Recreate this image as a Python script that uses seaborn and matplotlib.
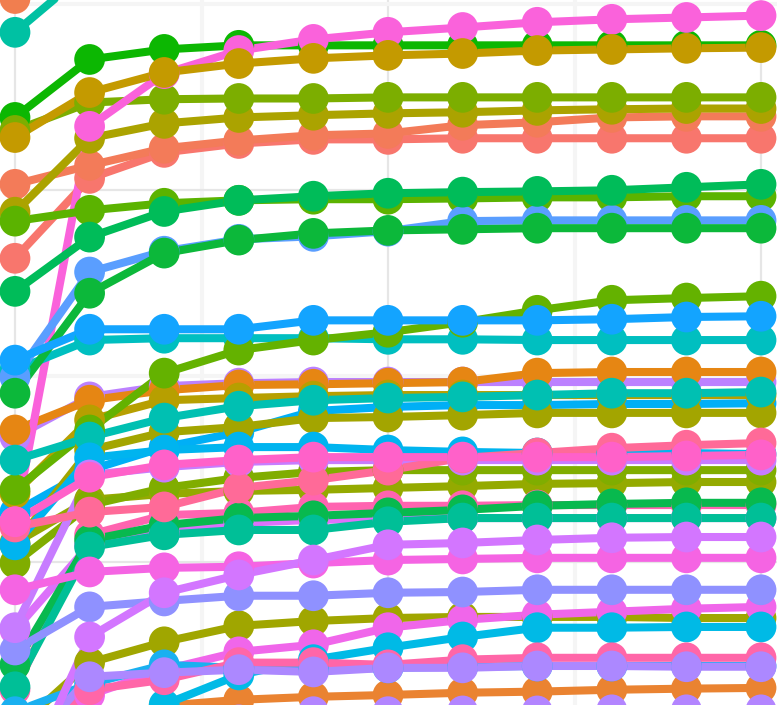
import matplotlib
matplotlib.use("Agg")
import matplotlib.pyplot as plt
import pandas as pd
import seaborn as sns

steps = [0, 1, 2, 3, 4, 5, 6, 7, 8, 9, 10]

# values per series (one value per step)
salmon = [181.7, 203.2, 210.2, 212.6, 213.7, 213.7, 214.0, 214.0, 214.0, 214.0, 214.0]
salmon_orange = [201.6, 206.7, 211.3, 213.4, 214.8, 215.3, 217.5, 218.3, 219.6, 219.9, 219.9]
coral_top = [251.6, 285.0, 288.0, 290.0, 291.0, 292.0, 292.0, 293.0, 293.0, 293.0, 293.0]
orange = [135.5, 143.5, 146.2, 147.6, 147.8, 148.1, 148.4, 150.8, 151.1, 151.1, 151.1]
orange_low = [41.4, 52.2, 61.3, 62.9, 63.7, 64.2, 64.8, 65.1, 65.6, 65.9, 66.1]
goldenrod = [214.2, 226.3, 231.7, 234.1, 235.5, 236.3, 236.8, 237.6, 237.9, 238.2, 238.4]
mustard = [118.5, 138.2, 143.5, 144.1, 144.6, 144.9, 144.9, 144.9, 144.9, 144.9, 144.9]
olive_gold = [194.1, 214.0, 218.0, 219.6, 220.2, 220.7, 221.0, 221.5, 221.8, 222.0, 222.0]
olive = [104.6, 130.1, 134.9, 136.3, 138.7, 139.0, 139.5, 140.1, 140.1, 140.1, 140.1]
olive_low = [54.8, 72.9, 78.5, 82.8, 84.1, 84.9, 85.2, 85.2, 85.2, 84.9, 84.9]
olive_mid = [105.1, 116.7, 118.3, 119.1, 119.4, 119.9, 120.4, 121.0, 121.2, 121.5, 121.5]
lime_top = [216.1, 223.6, 224.5, 224.7, 224.7, 225.0, 225.0, 225.0, 225.0, 225.0, 225.0]
lime_mid = [99.7, 115.3, 119.9, 122.6, 124.2, 124.7, 124.7, 124.7, 124.7, 124.7, 124.7]
leaf = [119.4, 135.5, 150.8, 157.0, 159.7, 161.8, 164.5, 167.7, 170.4, 171.0, 171.5]
grass = [191.7, 194.6, 196.5, 197.3, 197.6, 197.6, 197.8, 198.1, 198.1, 198.4, 198.4]
green_top = [219.6, 235.2, 237.9, 239.0, 239.0, 239.0, 239.0, 239.0, 239.0, 239.0, 239.0]
green_mid = [145.4, 172.3, 183.1, 186.6, 188.4, 189.2, 189.5, 189.8, 189.8, 189.8, 189.8]
green_low = [72.3, 105.9, 109.9, 111.8, 112.4, 113.2, 114.0, 115.1, 115.6, 115.9, 115.9]
emerald = [172.8, 187.4, 194.3, 197.3, 198.4, 199.2, 199.5, 199.7, 200.0, 200.8, 201.6]
jade = [66.4, 104.0, 107.3, 108.6, 108.6, 110.8, 111.8, 111.8, 111.8, 111.8, 111.8]
teal_top = [242.5, 259.4, 263.0, 265.0, 266.0, 267.0, 267.0, 268.0, 268.0, 268.0, 268.0]
teal = [127.4, 133.6, 138.7, 141.9, 143.5, 144.1, 144.4, 144.9, 145.4, 145.4, 145.7]
turquoise = [151.6, 159.7, 160.2, 160.2, 160.2, 159.9, 159.9, 159.7, 159.7, 159.7, 159.7]
cyan = [46.8, 52.2, 61.6, 69.6, 73.7, 76.9, 79.8, 82.3, 82.3, 82.5, 82.5]
sky = [104.6, 128.0, 130.1, 130.9, 130.9, 130.1, 129.6, 129.3, 129.3, 129.3, 129.0]
azure = [113.4, 124.7, 130.9, 134.9, 140.6, 141.7, 142.2, 142.2, 142.5, 142.5, 142.7]
azure_low = [59.7, 67.2, 72.3, 71.5, 71.0, 71.5, 71.8, 72.0, 72.0, 72.0, 72.0]
blue = [154.3, 162.6, 162.6, 162.6, 165.0, 165.0, 165.0, 165.0, 165.3, 165.9, 166.1]
cornflower = [149.7, 178.0, 183.6, 186.8, 187.6, 189.0, 191.7, 191.9, 191.9, 191.9, 191.9]
periwinkle = [76.3, 87.9, 89.5, 90.9, 90.9, 91.7, 91.9, 92.5, 92.5, 92.5, 92.5]
lavender_low = [46.8, 69.1, 70.2, 71.0, 70.4, 71.5, 71.5, 72.0, 72.0, 71.8, 71.8]
lavender_edge = [38.7, 46.8, 52.2, 57.5, 59.7, 59.7, 59.9, 59.9, 60.2, 60.2, 60.2]
lavender = [133.6, 144.4, 147.3, 148.1, 148.4, 148.4, 148.4, 148.4, 148.4, 148.4, 148.4]
purple = [82.3, 123.4, 125.5, 126.9, 127.4, 127.4, 127.4, 127.4, 127.4, 127.4, 127.4]
violet = [36.0, 79.8, 91.7, 96.5, 100.5, 104.6, 105.1, 105.9, 106.5, 106.7, 106.7]
orchid = [81.7, 104.6, 107.8, 110.5, 111.3, 111.6, 111.8, 111.8, 111.8, 111.8, 111.8]
magenta_low = [54.8, 64.2, 71.0, 75.8, 77.7, 82.3, 84.4, 85.8, 86.6, 87.4, 87.9]
magenta_top = [110.8, 217.2, 231.4, 237.6, 240.6, 242.5, 243.8, 245.2, 246.0, 246.5, 247.0]
magenta = [92.5, 97.3, 98.4, 98.7, 99.7, 100.5, 100.8, 101.1, 101.1, 101.1, 101.1]
pink = [110.8, 122.8, 126.1, 127.4, 128.2, 128.2, 128.2, 128.2, 128.2, 128.5, 128.8]
hot_pink = [65.6, 107.3, 112.6, 113.2, 114.8, 115.1, 115.1, 115.3, 115.3, 115.3, 115.3]
pink_low = [46.8, 65.6, 68.3, 72.9, 72.9, 72.3, 73.7, 74.2, 74.2, 74.2, 74.2]
rose = [109.4, 113.4, 114.8, 119.9, 122.0, 124.7, 128.0, 129.3, 130.6, 131.4, 132.0]

# drawing order (later series sit on top) with their colours
series = [
    ("salmon", salmon, "#F8766D"),
    ("salmon_orange", salmon_orange, "#F37B59"),
    ("coral_top", coral_top, "#F17E4F"),
    ("lavender", lavender, "#BC81FF"),
    ("azure", azure, "#00AFF6"),
    ("orange", orange, "#E68613"),
    ("orange_low", orange_low, "#EA8331"),
    ("green_top", green_top, "#0CB702"),
    ("mustard", mustard, "#B79F00"),
    ("olive_gold", olive_gold, "#ABA300"),
    ("olive", olive, "#A3A500"),
    ("olive_low", olive_low, "#A0A600"),
    ("olive_mid", olive_mid, "#94AA00"),
    ("lime_top", lime_top, "#7CAE00"),
    ("lime_mid", lime_mid, "#80AD00"),
    ("magenta_top", magenta_top, "#FA62DB"),
    ("goldenrod", goldenrod, "#C49A00"),
    ("turquoise", turquoise, "#00BFC0"),
    ("leaf", leaf, "#64B200"),
    ("grass", grass, "#5BB300"),
    ("cornflower", cornflower, "#5A9EFF"),
    ("green_mid", green_mid, "#0CB83A"),
    ("hot_pink", hot_pink, "#FF64B0"),
    ("orchid", orchid, "#DC71FA"),
    ("green_low", green_low, "#08B94E"),
    ("emerald", emerald, "#00BC59"),
    ("jade", jade, "#00BF97"),
    ("teal_top", teal_top, "#00C1A3"),
    ("teal", teal, "#00C0B2"),
    ("magenta_low", magenta_low, "#F066EA"),
    ("cyan", cyan, "#00BAE6"),
    ("sky", sky, "#00B4EF"),
    ("azure_low", azure_low, "#1AB0F0"),
    ("blue", blue, "#13A4FF"),
    ("periwinkle", periwinkle, "#8F91FF"),
    ("pink_low", pink_low, "#FF66A8"),
    ("lavender_low", lavender_low, "#AC88FF"),
    ("lavender_edge", lavender_edge, "#B385FF"),
    ("purple", purple, "#C77CFF"),
    ("magenta", magenta, "#F564E3"),
    ("violet", violet, "#D376FF"),
    ("rose", rose, "#FF6A98"),
    ("pink", pink, "#FF61C9"),
]

names = [name for name, _, _ in series]
colors = [color for _, _, color in series]
df = pd.DataFrame(
    [(name, s, v) for name, vals, _ in series for s, v in zip(steps, vals)],
    columns=["series", "step", "value"],
)

sns.set_theme(style="white")
fig = plt.figure(figsize=(7.77, 7.05), dpi=100)
ax = fig.add_axes([0, 0, 1, 1])

sns.lineplot(data=df, x="step", y="value", hue="series", hue_order=names,
             palette=colors, estimator=None, sort=False, linewidth=5.8,
             legend=False, ax=ax, solid_joinstyle="round", zorder=2)
sns.scatterplot(data=df, x="step", y="value", hue="series", hue_order=names,
                palette=colors, s=490, linewidth=0, legend=False, ax=ax,
                zorder=3)

ax.set_xlim(-0.201, 10.214)
ax.set_ylim(61.5, 251.2)
ax.set_xticks([0, 5, 10])
ax.set_xticks([2.5, 7.5], minor=True)
ax.set_yticks([100, 200])
ax.set_yticks([150, 250], minor=True)
ax.grid(which="major", color="#E6E6E6", linewidth=1.6)
ax.grid(which="minor", color="#F5F5F5", linewidth=3)
ax.set_axisbelow(True)
ax.tick_params(which="both", length=0, labelbottom=False, labelleft=False)
ax.set_xlabel("")
ax.set_ylabel("")
for spine in ax.spines.values():
    spine.set_visible(False)

fig.savefig("out.png", dpi=100)
